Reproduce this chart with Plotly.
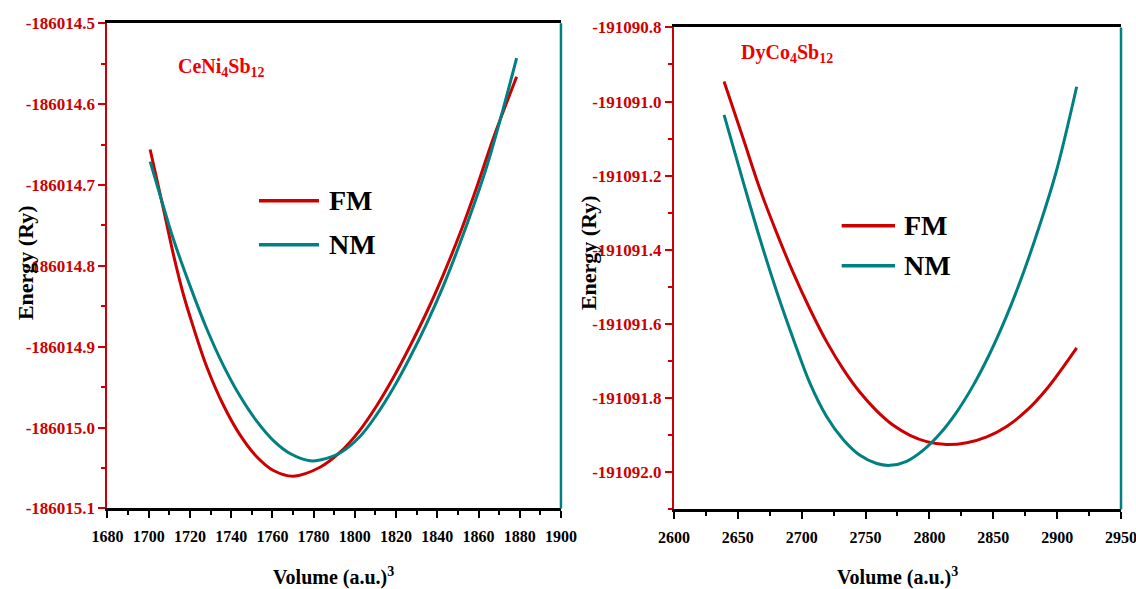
import plotly.graph_objects as go

# CeNi4Sb12 : volume (a.u.^3) vs energy (Ry)
ce_fm_vol = [1700.7, 1707.2, 1712.0, 1716.9, 1721.7, 1728.2, 1736.2, 1744.3, 1752.4, 1760.5,
             1770.2, 1783.1, 1793.0, 1802.5, 1810.6, 1818.7, 1826.8, 1834.9, 1842.9, 1851.0,
             1859.1, 1867.2, 1878.5]
ce_fm_e = [-186014.656, -186014.730, -186014.786, -186014.836, -186014.876, -186014.925,
           -186014.972, -186015.009, -186015.036, -186015.053, -186015.060, -186015.049,
           -186015.030, -186015.003, -186014.973, -186014.938, -186014.899, -186014.857,
           -186014.811, -186014.760, -186014.703, -186014.642, -186014.566]

ce_nm_vol = [1700.7, 1707.2, 1712.0, 1720.1, 1728.2, 1736.2, 1744.3, 1752.4, 1760.5, 1768.6,
             1778.3, 1783.1, 1793.0, 1802.5, 1810.6, 1818.7, 1826.8, 1834.9, 1842.9, 1851.0,
             1864.0, 1878.5]
ce_nm_e = [-186014.671, -186014.727, -186014.767, -186014.825, -186014.878, -186014.923,
           -186014.961, -186014.992, -186015.016, -186015.032, -186015.041, -186015.040,
           -186015.031, -186015.011, -186014.984, -186014.951, -186014.913, -186014.871,
           -186014.825, -186014.772, -186014.677, -186014.543]

# DyCo4Sb12
dy_fm_vol = [2639.2, 2654.3, 2667.3, 2680.4, 2693.4, 2706.5, 2719.6, 2732.6, 2745.6, 2758.7,
             2771.7, 2784.8, 2797.9, 2813.5, 2829.2, 2844.9, 2860.5, 2876.2, 2891.8, 2915.3]
dy_fm_e = [-191090.946, -191091.101, -191091.236, -191091.354, -191091.462, -191091.560,
           -191091.648, -191091.722, -191091.784, -191091.834, -191091.873, -191091.900,
           -191091.917, -191091.925, -191091.920, -191091.904, -191091.876, -191091.833,
           -191091.775, -191091.664]

dy_nm_vol = [2639.2, 2654.3, 2667.3, 2680.4, 2693.4, 2706.5, 2719.6, 2732.6, 2745.6, 2758.7,
             2769.1, 2782.2, 2795.2, 2808.2, 2821.2, 2834.2, 2847.2, 2860.2, 2873.2, 2886.2,
             2899.2, 2915.3]
dy_nm_e = [-191091.036, -191091.218, -191091.370, -191091.512, -191091.640, -191091.760,
           -191091.850, -191091.912, -191091.954, -191091.976, -191091.981, -191091.970,
           -191091.940, -191091.896, -191091.838, -191091.766, -191091.680, -191091.580,
           -191091.465, -191091.335, -191091.190, -191090.960]

ce_yticks = [-186015.1, -186015.0, -186014.9, -186014.8, -186014.7, -186014.6, -186014.5]
dy_yticks = [-191092.0, -191091.8, -191091.6, -191091.4, -191091.2, -191091.0, -191090.8]

RED = '#cc0000'
TEAL = '#008080'
FONT = 'Liberation Serif'

fig = go.Figure()
fig.add_trace(go.Scatter(x=ce_fm_vol, y=ce_fm_e, name='FM', mode='lines', line=dict(color=RED, width=3, shape='spline'), xaxis='x', yaxis='y'))
fig.add_trace(go.Scatter(x=ce_nm_vol, y=ce_nm_e, name='NM', mode='lines', line=dict(color=TEAL, width=3, shape='spline'), xaxis='x', yaxis='y'))
fig.add_trace(go.Scatter(x=dy_fm_vol, y=dy_fm_e, name='FM', mode='lines', line=dict(color=RED, width=3, shape='spline'), xaxis='x2', yaxis='y2'))
fig.add_trace(go.Scatter(x=dy_nm_vol, y=dy_nm_e, name='NM', mode='lines', line=dict(color=TEAL, width=3, shape='spline'), xaxis='x2', yaxis='y2'))


def xax(domain, rng, dtick, minor, anchor):
    return dict(domain=domain, range=rng, dtick=dtick, tick0=rng[0], anchor=anchor, automargin=False,
                ticks='outside', ticklen=7, tickwidth=2, tickcolor='black',
                showline=True, linecolor='black', linewidth=3, mirror=True,
                showgrid=False, zeroline=False, ticklabelstandoff=4, ticklabeloverflow='allow',
                tickfont=dict(family=FONT, size=16, color='black', weight=700),
                minor=dict(dtick=minor, tick0=rng[0], ticks='outside', ticklen=4, tickwidth=1.5, tickcolor='black'))


def yax(domain, rng, vals, minor, anchor):
    return dict(domain=domain, range=rng, tickmode='array', tickvals=vals,
                ticktext=[f'{v:.1f}' for v in vals], anchor=anchor, automargin=False,
                ticks='outside', ticklen=7, tickwidth=2, tickcolor=RED,
                showline=True, linecolor=RED, linewidth=2, mirror=False,
                showgrid=False, zeroline=False,
                tickfont=dict(family=FONT, size=17, color=RED, weight=700),
                minor=dict(dtick=minor, tick0=rng[0], ticks='outside', ticklen=4, tickwidth=1.5, tickcolor=RED))


fig.update_layout(
    width=1136, height=589, margin=dict(l=0, r=0, t=0, b=0, autoexpand=False),
    plot_bgcolor='white', paper_bgcolor='white', showlegend=False,
    xaxis=xax([0.0946, 0.4938], [1680, 1900], 20, 10, 'y'),
    yaxis=yax([0.1367, 0.9604], [-186015.1, -186014.5], ce_yticks, 0.05, 'x'),
    xaxis2=xax([0.5933, 0.9868], [2600, 2950], 50, 25, 'y2'),
    yaxis2=yax([0.1350, 0.9535], [-191092.1, -191090.8], dy_yticks, 0.1, 'x2'),
)

# teal right-hand frame lines
for xr, yr in [('x domain', 'y domain'), ('x2 domain', 'y2 domain')]:
    fig.add_shape(type='line', xref=xr, yref=yr, x0=1, x1=1, y0=0, y1=1, line=dict(color=TEAL, width=2.5))

# legends drawn by hand (long line samples)
legends = [(0.228, 0.2808, 0.6593, 0.5846, 0.2879), (0.7409, 0.7879, 0.6168, 0.5489, 0.7937)]
for x0, x1, yfm, ynm, xt in legends:
    for y, col, lab in [(yfm, RED, 'FM'), (ynm, TEAL, 'NM')]:
        fig.add_shape(type='line', xref='paper', yref='paper', x0=x0, x1=x1, y0=y, y1=y, line=dict(color=col, width=3.5))
        fig.add_annotation(xref='paper', yref='paper', x=xt, y=y, xanchor='left', yanchor='middle', showarrow=False,
                           text=f'<b>{lab}</b>', font=dict(family=FONT, size=28, color='black'))

# compound labels
fig.add_annotation(xref='paper', yref='paper', x=0.155, y=0.8846, xanchor='left', yanchor='middle', showarrow=False,
                   text='<b>CeNi<sub>4</sub>Sb<sub>12</sub></b>', font=dict(family=FONT, size=20, color='#ee0000'))
fig.add_annotation(xref='paper', yref='paper', x=0.6505, y=0.910, xanchor='left', yanchor='middle', showarrow=False,
                   text='<b>DyCo<sub>4</sub>Sb<sub>12</sub></b>', font=dict(family=FONT, size=20, color='#ee0000'))

# axis titles
for x in [0.294, 0.790]:
    fig.add_annotation(xref='paper', yref='paper', x=x, y=0.0204, xanchor='center', yanchor='middle', showarrow=False,
                       text='<b>Volume (a.u.)<sup>3</sup></b>', font=dict(family=FONT, size=20, color='black'))
for x, y in [(0.022, 0.555), (0.5176, 0.572)]:
    fig.add_annotation(xref='paper', yref='paper', x=x, y=y, xanchor='center', yanchor='middle', showarrow=False,
                       textangle=-90, text='<b>Energy (Ry)</b>', font=dict(family=FONT, size=22, color='black'))

# drop the default page margin so the figure sits at the window corner
fig.write_html('out.html', config={'displayModeBar': False},
               post_script="document.body.style.margin='0';document.body.style.overflow='hidden';")
